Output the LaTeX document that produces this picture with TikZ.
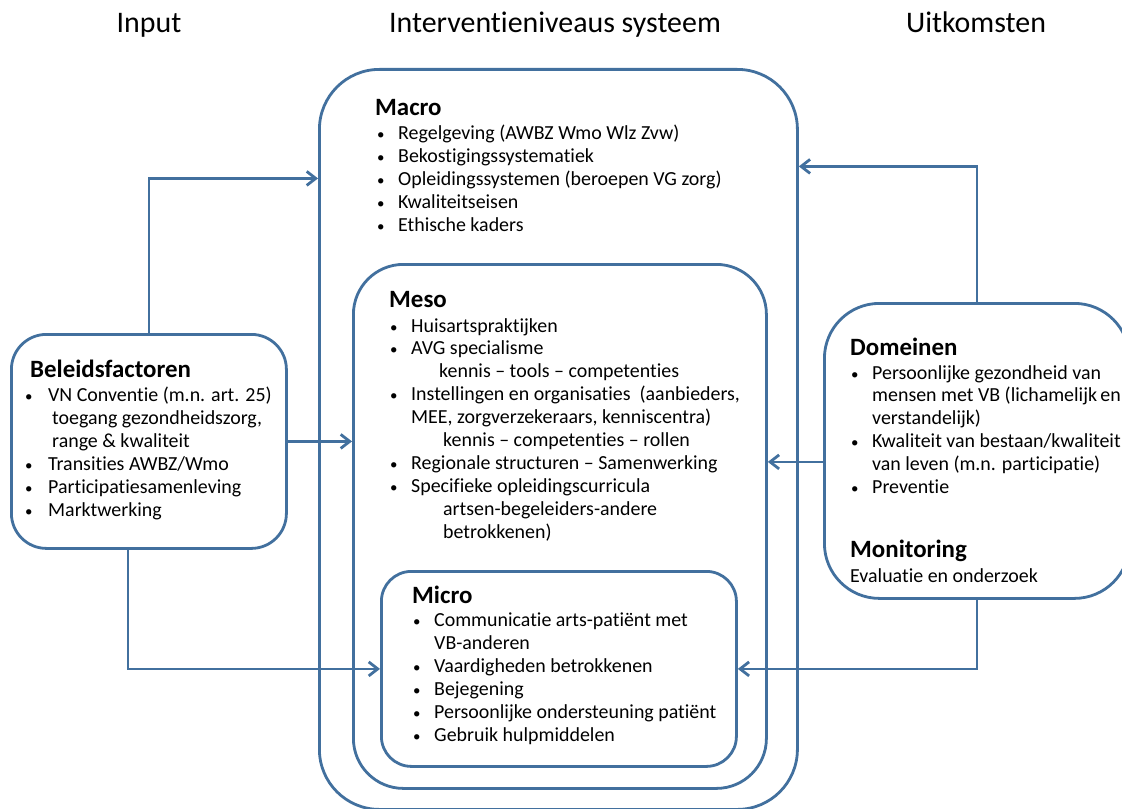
\documentclass[tikz,border=0pt]{standalone}
\usepackage{fontspec}
\setmainfont{Carlito}[Ligatures=NoCommon]
\usetikzlibrary{arrows.meta,positioning}

\definecolor{linkblue}{RGB}{66,112,158}

\tikzset{
  lvlbox/.style={draw=linkblue, line width=2.8bp, fill=white, anchor=north west, inner sep=0pt},
  flow/.style={draw=linkblue, line width=2.8bp, -{Straight Barb[length=9bp,width=14bp]}},
  boxttl/.style={anchor=base west, inner sep=0pt, font=\fontsize{25}{28}\selectfont\bfseries},
  boxtxt/.style={anchor=north west, align=left, inner sep=0pt, font=\fontsize{20}{23}\selectfont,
    execute at begin node=\rule{0pt}{15bp}},
  colhead/.style={anchor=base, inner sep=0pt, font=\fontsize{30}{32}\selectfont},
}
\newcommand{\itm}{\makebox[21bp][l]{\fontsize{15}{15}\selectfont\textbullet}}
\newcommand{\itmw}{\makebox[23bp][l]{\fontsize{15}{15}\selectfont\textbullet}}
\newcommand{\ind}[1]{\hspace*{#1bp}}

\begin{document}
\begin{tikzpicture}[x=1bp,y=-1bp]
  \useasboundingbox (0,0) rectangle (1122,809);

  % column headings
  \node[colhead] (hinput) at (149,33) {Input};
  \node[colhead] (hsys) at (555,33) {Interventieniveaus systeem};
  \node[colhead] (hout) at (976,33) {Uitkomsten};

  % nested levels
  \node[lvlbox, rounded corners=60bp, minimum width=478bp, minimum height=740bp] (macro) at (318,68) {};
  \node[lvlbox, rounded corners=50bp, minimum width=413bp, minimum height=524bp] (meso) at (352,263) {};
  \node[lvlbox, rounded corners=30bp, minimum width=355bp, minimum height=195bp] (micro) at (380,570) {};

  \node[boxttl] (macrottl) at ([shift={(57,47)}]macro.north west) {Macro};
  \node[boxtxt] (macrotxt) at ([shift={(59,57)}]macro.north west) {%
    \itm Regelgeving (AWBZ Wmo Wlz Zvw)\\
    \itm Bekostigingssystematiek\\
    \itm Opleidingssystemen (beroepen VG zorg)\\
    \itm Kwaliteitseisen\\
    \itm Ethische kaders};

  \node[boxttl] (mesottl) at ([shift={(37,44)}]meso.north west) {Meso};
  \node[boxtxt] (mesotxt) at ([shift={(38,55)}]meso.north west) {%
    \itm Huisartspraktijken\\
    \itm AVG specialisme\\
    \ind{49}kennis -- tools -- competenties\\
    \itm Instellingen en organisaties \ (aanbieders,\\
    \ind{21}MEE, zorgverzekeraars, kenniscentra)\\
    \ind{53}kennis -- competenties -- rollen\\
    \itm Regionale structuren -- Samenwerking\\
    \itm Specifieke opleidingscurricula\\
    \ind{53}artsen-begeleiders-andere\\
    \ind{53}betrokkenen)};

  \node[boxttl] (microttl) at ([shift={(32,33)}]micro.north west) {Micro};
  \node[boxtxt] (microtxt) at ([shift={(33,43)}]micro.north west) {%
    \itm Communicatie arts-patiënt met\\
    \ind{21}VB-anderen\\
    \itm Vaardigheden betrokkenen\\
    \itm Bejegening\\
    \itm Persoonlijke ondersteuning patiënt\\
    \itm Gebruik hulpmiddelen};

  % input
  \node[lvlbox, rounded corners=35bp, minimum width=275bp, minimum height=214bp] (beleid) at (10,333) {};
  \node[boxttl] (beleidttl) at ([shift={(20,44)}]beleid.north west) {Beleidsfactoren};
  \node[boxtxt] (beleidtxt) at ([shift={(15,54)}]beleid.north west) {%
    \itmw VN Conventie (m.n. art. 25)\\
    \ind{27}toegang gezondheidszorg,\\
    \ind{27}range \& kwaliteit\\
    \itmw Transities AWBZ/Wmo\\
    \itmw Participatiesamenleving\\
    \itmw Marktwerking};

  % outcomes
  \node[lvlbox, rounded corners=55bp, minimum width=305bp, minimum height=295bp] (domein) at (823,302) {};
  \node[boxttl] (domeinttl) at ([shift={(27,53)}]domein.north west) {Domeinen};
  \node[boxtxt] (domeintxt) at ([shift={(28,63)}]domein.north west) {%
    \itm Persoonlijke gezondheid van\\
    \ind{21}mensen met VB (lichamelijk\,en\\
    \ind{21}verstandelijk)\\
    \itm Kwaliteit van bestaan/kwaliteit\\
    \ind{21}van leven (m.n. participatie)\\
    \itm Preventie};
  \node[boxttl] (monittl) at ([shift={(27,255)}]domein.north west) {Monitoring};
  \node[boxtxt] (monitxt) at ([shift={(27,265)}]domein.north west) {Evaluatie en onderzoek};

  % connectors
  \draw[flow] (beleid.north) |- ([yshift=261bp]macro.west);
  \draw[flow] (beleid.east) -- (beleid.east -| meso.west);
  \draw[flow] ([xshift=-21bp]beleid.south) |- (micro.west);
  \draw[flow] (domein.north) |- ([yshift=273bp]macro.east);
  \draw[flow] ([yshift=-11bp]domein.west) coordinate (dmid) -- (dmid -| meso.east);
  \draw[flow] (domein.south) |- (micro.east);
\end{tikzpicture}
\end{document}
